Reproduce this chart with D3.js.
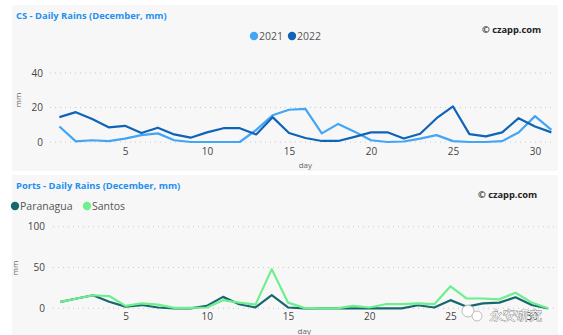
<!DOCTYPE html>
<html>
<head>
<meta charset="utf-8">
<script src="https://cdn.jsdelivr.net/npm/d3@7"></script>
<style>
  html, body { margin: 0; padding: 0; background: #ffffff; }
  svg { display: block; }
  text { font-family: "Open Sans", "Noto Sans", sans-serif; }
</style>
</head>
<body>
<svg id="chart" width="563" height="335"></svg>
<script>
// December days
const days = d3.range(1, 32);

// CS daily rains, mm
const cs2021 = [9, 0.4, 1, 0.5, 2, 4, 5, 1, 0, 0, 0, 0, 7, 15.5, 18.7, 19.2, 5, 10.5, 6, 1, 0, 0.3, 2, 4, 0.5, 0, 0, 0.5, 5.5, 15, 7];
const cs2022 = [14.4, 17.3, 13.3, 8.5, 9.4, 5.2, 8.3, 4.4, 2.5, 5.6, 8, 8, 4.4, 14.4, 5.2, 2.3, 0.6, 0.6, 3, 5.6, 5.6, 2, 4.8, 13.8, 20.6, 4.6, 3.3, 5.6, 13.8, 9, 5.6];

// Ports daily rains, mm
const paranagua = [7.8, 12, 16, 8, 2, 4, 1, 0, 0, 3, 14, 5, 1, 16, 1, 0, 0, 0, 0, 0, 0, 0, 3.7, 1, 10, 2, 6, 7, 13.5, 4, 0];
const santos = [7.8, 12, 16, 15, 3, 6, 4.5, 0.5, 0.5, 1, 10, 7, 4.5, 48, 7, 0.5, 0, 0, 3, 1, 5, 5, 6, 5, 27, 12, 12, 11, 19, 7, 0];

// Axis ticks
const xTicks = [5, 10, 15, 20, 25, 30];
const csYTicks = [0, 20, 40];
const portsYTicks = [0, 50, 100];

const svg = d3.select("#chart");

function panel(cfg) {
  const g = svg.append("g");
  g.append("rect")
    .attr("x", cfg.box[0]).attr("y", cfg.box[1])
    .attr("width", cfg.box[2]).attr("height", cfg.box[3])
    .attr("fill", "#f7f7f7");

  g.append("text")
    .attr("x", cfg.box[0] + 4).attr("y", cfg.box[1] + 13.5)
    .attr("font-family", "DejaVu Sans")
    .attr("font-weight", "bold")
    .attr("font-size", 9.4)
    .attr("fill", "#1f8ff0")
    .text(cfg.title);

  g.append("text")
    .attr("x", cfg.creditX).attr("y", cfg.creditY)
    .attr("font-family", "DejaVu Sans")
    .attr("font-weight", "bold")
    .attr("font-size", 9.3)
    .attr("fill", "#222")
    .text("\u00a9 czapp.com");

  const x = d3.scaleLinear().domain([1, 31]).range(cfg.xRange);
  const y = d3.scaleLinear().domain(cfg.yDomain).range(cfg.yRange);

  // dotted gridlines
  g.append("g").selectAll("line").data(cfg.yTicks).join("line")
    .attr("x1", cfg.gridX[0]).attr("x2", cfg.gridX[1])
    .attr("y1", d => y(d)).attr("y2", d => y(d))
    .attr("stroke", "#c8c8c8").attr("stroke-width", 1)
    .attr("stroke-dasharray", "1,4");

  // y axis
  const yAxis = g.append("g")
    .attr("transform", `translate(${cfg.yLabelX},0)`)
    .call(d3.axisLeft(y).tickValues(cfg.yTicks).tickSize(0).tickPadding(0));
  yAxis.select(".domain").remove();
  yAxis.selectAll("text").attr("font-size", 10).attr("fill", "#444")
    .attr("font-family", "Open Sans, sans-serif");

  // x axis
  const xAxis = g.append("g")
    .attr("transform", `translate(0,${cfg.xLabelY})`)
    .call(d3.axisBottom(x).tickValues(xTicks).tickSize(0).tickPadding(0));
  xAxis.select(".domain").remove();
  xAxis.selectAll("text").attr("font-size", 10).attr("fill", "#444")
    .attr("font-family", "Open Sans, sans-serif");

  g.append("text")
    .attr("x", (cfg.xRange[0] + cfg.xRange[1]) / 2).attr("y", cfg.dayY)
    .attr("text-anchor", "middle")
    .attr("font-size", 8).attr("fill", "#666")
    .text("day");

  g.append("text")
    .attr("transform", `translate(${cfg.mmX},${cfg.mmY}) rotate(-90)`)
    .attr("text-anchor", "middle")
    .attr("font-size", 8).attr("fill", "#666")
    .text("mm");

  const line = d3.line().x((d, i) => x(days[i])).y(d => y(d));
  cfg.series.forEach(s => {
    g.append("path")
      .datum(s.values)
      .attr("d", line)
      .attr("fill", "none")
      .attr("stroke", s.color)
      .attr("stroke-width", 2.2)
      .attr("stroke-linejoin", "round");
  });

  // legend
  cfg.series.forEach(s => {
    g.append("circle")
      .attr("cx", s.lx).attr("cy", cfg.legendY)
      .attr("r", 4.2).attr("fill", s.color);
    g.append("text")
      .attr("x", s.lx + 5).attr("y", cfg.legendY + 3.8)
      .attr("font-size", 10.5).attr("fill", "#555")
      .text(s.name);
  });
  return g;
}

panel({
  box: [12, 5, 546, 166],
  title: "CS - Daily Rains (December, mm)",
  creditX: 482, creditY: 33,
  xRange: [59.4, 551.4],
  yDomain: [0, 40], yRange: [142, 73],
  yTicks: csYTicks,
  gridX: [50, 553],
  yLabelX: 43,
  xLabelY: 148,
  dayY: 168,
  mmX: 21, mmY: 100,
  legendY: 36,
  series: [
    { name: "2021", values: cs2021, color: "#42a5f5", lx: 254 },
    { name: "2022", values: cs2022, color: "#0f64b8", lx: 292 }
  ]
});

panel({
  box: [12, 175, 546, 160],
  title: "Ports - Daily Rains (December, mm)",
  creditX: 478, creditY: 198,
  xRange: [60.5, 548],
  yDomain: [0, 100], yRange: [308.3, 226.7],
  yTicks: portsYTicks,
  gridX: [53, 556],
  yLabelX: 45,
  xLabelY: 313,
  dayY: 334,
  mmX: 18, mmY: 268,
  legendY: 206,
  series: [
    { name: "Paranagua", values: paranagua, color: "#17686e", lx: 15 },
    { name: "Santos", values: santos, color: "#6cef8c", lx: 87 }
  ]
});

// publisher mark in the lower right corner
const wm = svg.append("g").attr("opacity", 0.95);
wm.append("circle").attr("cx", 468).attr("cy", 311).attr("r", 6)
  .attr("fill", "#ffffff").attr("stroke", "#aaa").attr("stroke-width", 0.8);
wm.append("circle").attr("cx", 477).attr("cy", 316).attr("r", 5)
  .attr("fill", "#ffffff").attr("stroke", "#aaa").attr("stroke-width", 0.8);
wm.append("text")
  .attr("x", 490).attr("y", 320)
  .attr("font-family", "Noto Sans CJK SC")
  .attr("font-size", 13)
  .attr("fill", "#ffffff")
  .attr("stroke", "#777").attr("stroke-width", 0.8)
  .attr("paint-order", "stroke")
  .text("永安研究");
</script>
</body>
</html>
